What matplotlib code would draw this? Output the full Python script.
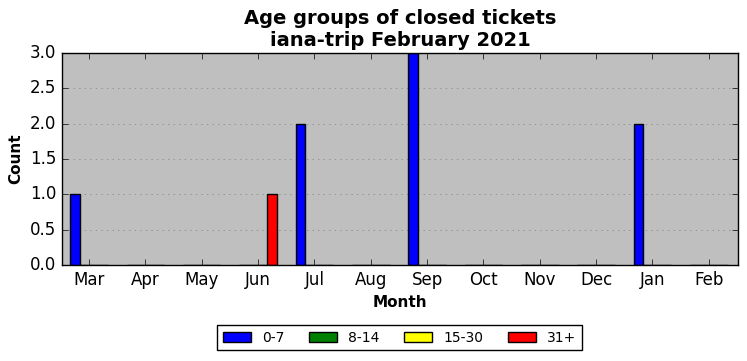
import numpy as np
import matplotlib
matplotlib.use("Agg")
import matplotlib.pyplot as plt

months = ["Mar", "Apr", "May", "Jun", "Jul", "Aug", "Sep", "Oct", "Nov", "Dec", "Jan", "Feb"]
groups = ["0-7", "8-14", "15-30", "31+"]
colors = ["blue", "green", "yellow", "red"]
counts_0_7 = [1, 0, 0, 0, 2, 0, 3, 0, 0, 0, 2, 0]
counts_8_14 = [0, 0, 0, 0, 0, 0, 0, 0, 0, 0, 0, 0]
counts_15_30 = [0, 0, 0, 0, 0, 0, 0, 0, 0, 0, 0, 0]
counts_31 = [0, 0, 0, 1, 0, 0, 0, 0, 0, 0, 0, 0]
series = [counts_0_7, counts_8_14, counts_15_30, counts_31]

plt.style.use("classic")
fig = plt.figure(figsize=(7.47, 3.61), dpi=100)
ax = fig.add_axes([0.083, 0.266, 0.905, 0.587])
ax.set_facecolor("#bfbfbf")

x = np.arange(len(months))
w = 1.0 / 6
for i, vals in enumerate(series):
    ax.bar(x + (i - 1.5) * w, vals, w, color=colors[i], edgecolor="black",
           label=groups[i], align="center")

ax.set_xticks(x)
ax.set_xticklabels(months)
ax.set_xlim(-0.48, 11.52)
ax.set_ylim(0, 3)
ax.yaxis.grid(True, linestyle=":", color="gray")
ax.set_axisbelow(True)
ax.set_title("Age groups of closed tickets\niana-trip February 2021", fontsize=14,
             fontweight="bold", pad=5)
ax.set_xlabel("Month", fontsize=11, fontweight="bold")
ax.set_ylabel("Count", fontsize=11, fontweight="bold")

fig.legend(loc="center", bbox_to_anchor=(0.535, 0.064), ncol=4, fontsize=10,
           columnspacing=1.8)

fig.savefig("out.png", dpi=100)
